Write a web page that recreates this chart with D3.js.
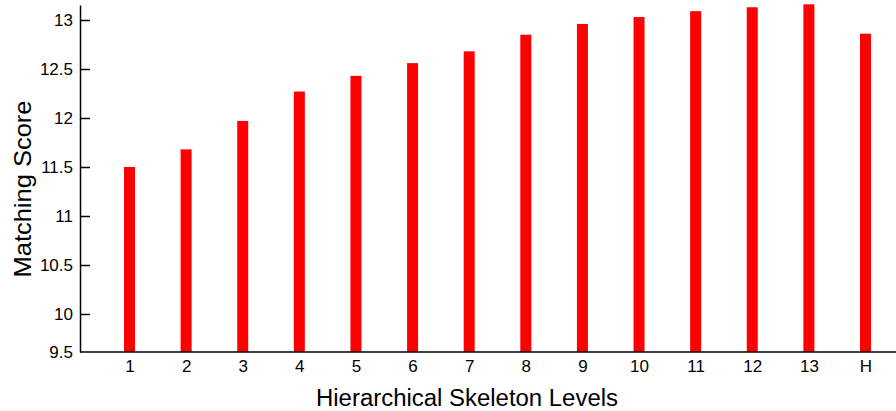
<!DOCTYPE html>
<html>
<head>
<meta charset="utf-8">
<script src="https://cdn.jsdelivr.net/npm/d3@7"></script>
<style>
    body { margin: 0; background: #fff; }
    svg { display: block; font-family: "Liberation Sans", Arial, sans-serif; }
    .axis text { font-size: 17px; fill: #000; }
    .axis path, .axis line { stroke: #000; stroke-width: 1.5px; }
</style>
</head>
<body>
<script>
// data
const levels = ["1", "2", "3", "4", "5", "6", "7", "8", "9", "10", "11", "12", "13", "H"];
const scores = [11.50, 11.68, 11.97, 12.27, 12.43, 12.56, 12.68, 12.85, 12.96, 13.03, 13.09, 13.13, 13.16, 12.86];
const yTicks = [9.5, 10, 10.5, 11, 11.5, 12, 12.5, 13];

const w = 896;
const h = 411;
const xLeft = 80;
const yBottom = 352;

const svg = d3.select("body")
    .append("svg")
    .attr("width", w)
    .attr("height", h);

// horizontal scale
const xScale = d3.scalePoint()
    .domain(levels)
    .range([129.5, 865.5]);

// vertical scale (bottom stretch is squeezed in the original)
const yScale = d3.scaleLinear()
    .domain([9.5, 10, 13.153])
    .range([yBottom, 314, 5]);

const barW = 11;

svg.selectAll("rect.bar")
    .data(scores)
    .enter()
    .append("rect")
    .attr("class", "bar")
    .attr("x", function (d, i) { return xScale(levels[i]) - barW / 2; })
    .attr("y", function (d) { return yScale(d); })
    .attr("width", barW)
    .attr("height", function (d) { return yBottom - yScale(d); })
    .attr("fill", "#ff0000");

// x-axis
const xAxis = svg.append("g")
    .attr("class", "axis")
    .attr("transform", "translate(0," + yBottom + ")")
    .call(d3.axisBottom(xScale).tickSize(0).tickPadding(8));
xAxis.select(".domain").remove();

svg.append("line")
    .attr("x1", xLeft)
    .attr("x2", w)
    .attr("y1", yBottom)
    .attr("y2", yBottom)
    .attr("stroke", "#000")
    .attr("stroke-width", 1.5);

// y-axis, ticks pointing inward
const yAxis = svg.append("g")
    .attr("class", "axis")
    .attr("transform", "translate(" + xLeft + ",0)")
    .call(d3.axisLeft(yScale)
        .tickValues(yTicks)
        .tickFormat(d3.format(""))
        .tickSizeInner(-10)
        .tickSizeOuter(0)
        .tickPadding(7));
yAxis.selectAll(".tick").filter(function (d) { return d === 9.5; }).select("line").remove();

svg.append("text")
    .attr("text-anchor", "middle")
    .attr("x", 467)
    .attr("y", 406)
    .attr("font-size", 23)
    .attr("textLength", 302)
    .attr("lengthAdjust", "spacingAndGlyphs")
    .text("Hierarchical Skeleton Levels");

svg.append("text")
    .attr("text-anchor", "middle")
    .attr("transform", "translate(31,189)rotate(-90)")
    .attr("font-size", 24)
    .attr("textLength", 177)
    .attr("lengthAdjust", "spacingAndGlyphs")
    .text("Matching Score");
</script>
</body>
</html>
